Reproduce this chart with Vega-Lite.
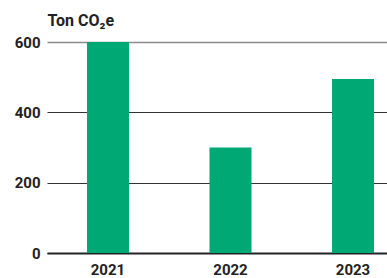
{
  "$schema": "https://vega.github.io/schema/vega-lite/v6.json",
  "width": 340,
  "height": 211,
  "autosize": {"type": "none"},
  "padding": {"left": 47, "top": 42, "right": 0, "bottom": 25},
  "background": "white",
  "config": {"view": {"stroke": null}, "font": "Roboto"},
  "data": {"values": [
    {"year": "2021", "value": 600},
    {"year": "2022", "value": 300},
    {"year": "2023", "value": 495}
  ]},
  "mark": {"type": "bar", "color": "#00a873"},
  "encoding": {
    "x": {
      "field": "year", "type": "nominal",
      "scale": {"paddingInner": 0.657, "paddingOuter": 0.216, "align": 0.755},
      "axis": {
        "title": null, "labelAngle": 0, "ticks": false,
        "domainColor": "#222", "domainWidth": 2,
        "labelFont": "Roboto", "labelFontWeight": "bold", "labelFontSize": 15,
        "labelColor": "#222", "labelPadding": 9
      }
    },
    "y": {
      "field": "value", "type": "quantitative",
      "scale": {"domain": [0, 600], "nice": false},
      "axis": {
        "values": [0, 200, 400, 600],
        "title": "Ton CO₂e", "titleAngle": 0, "titleX": 0, "titleY": -17,
        "titleAlign": "left", "titleBaseline": "alphabetic",
        "titleFont": "Roboto", "titleFontWeight": "bold", "titleFontSize": 16, "titleColor": "#222",
        "domain": false, "ticks": false,
        "grid": true,
        "gridColor": {"condition": {"test": "datum.value === 600", "value": "#8a8a8a"}, "value": "#333"},
        "gridWidth": {"condition": {"test": "datum.value === 600", "value": 1.5}, "value": 1},
        "labelFont": "Roboto", "labelFontWeight": "bold", "labelFontSize": 15,
        "labelColor": "#222", "labelPadding": 7
      }
    }
  }
}
